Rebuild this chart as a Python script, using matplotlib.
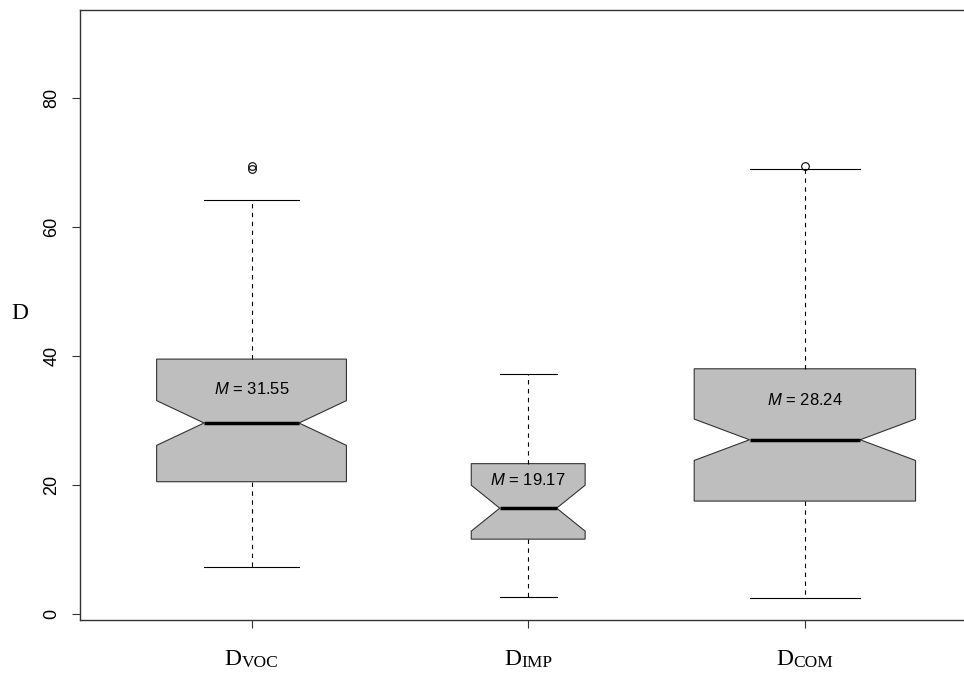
import numpy as np
import matplotlib
matplotlib.use('Agg')
import matplotlib.pyplot as plt

# datos de las cajas
groups = ['VOC', 'IMP', 'COM']
n_obs = [75, 27, 102]
whis_lo = [7.3, 2.6, 2.5]
q1 = [20.5, 11.6, 17.5]
medians = [29.6, 16.4, 27.0]
q3 = [39.5, 23.3, 38.0]
whis_hi = [64.2, 37.2, 68.9]
outliers = [[69.0, 69.5], [], [69.5]]
means = [31.55, 19.17, 28.24]
mean_text_y = [34.9, 20.8, 33.2]

plt.rcParams['mathtext.fontset'] = 'custom'
plt.rcParams['mathtext.rm'] = 'Liberation Sans'
plt.rcParams['mathtext.it'] = 'Liberation Sans:italic'
plt.rcParams['font.family'] = 'Liberation Sans'

# estadisticos para bxp, muescas como en R (1.58*IQR/sqrt(n))
stats = []
for i in range(len(groups)):
    iqr = q3[i] - q1[i]
    h = 1.58 * iqr / np.sqrt(n_obs[i])
    stats.append(dict(med=medians[i], q1=q1[i], q3=q3[i],
                      whislo=whis_lo[i], whishi=whis_hi[i],
                      cilo=medians[i] - h, cihi=medians[i] + h,
                      fliers=np.array(outliers[i]), label=''))

n = np.array(n_obs, dtype=float)
widths = 0.8 * np.sqrt(n / n.max())   # varwidth=TRUE
pos = np.arange(1, len(groups) + 1)

fig = plt.figure(figsize=(9.64, 6.73), dpi=100)
ax = fig.add_axes([80/964, 53/673, 896.4/964, 610/673])

ax.bxp(stats, positions=pos, widths=widths, capwidths=widths*0.5,
       shownotches=True, patch_artist=True,
       boxprops=dict(facecolor='#BEBEBE', edgecolor='#333333', linewidth=0.8),
       medianprops=dict(color='black', linewidth=2.5),
       whiskerprops=dict(color='black', linewidth=0.8, linestyle=(0, (4, 4))),
       capprops=dict(color='black', linewidth=0.8),
       flierprops=dict(marker='o', mfc='none', mec='black', ms=5.5, mew=0.8))

for p, m, ty in zip(pos, means, mean_text_y):
    ax.text(p, ty, r'$M$ = %.2f' % m, ha='center', va='center', fontsize=12)

ax.set_xlim(0.38, 3.62)
ax.set_ylim(-0.93, 93.6)

ax.set_yticks([0, 20, 40, 60, 80])
ax.set_yticklabels(['0', '20', '40', '60', '80'], fontsize=13, rotation=90, va='center')
ax.set_xticks(pos)
ax.set_xticklabels([])
ax.tick_params('y', length=6, width=0.8, pad=8, color='#333333')
ax.tick_params('x', length=6, width=0.8, color='#333333')

for s in ax.spines.values():
    s.set_color('#333333')
    s.set_linewidth(1.0)

ax.set_ylabel('D', family='Liberation Serif', fontsize=17, rotation=0, va='center', ha='center')
ax.yaxis.set_label_coords(-60/896.4, 0.503)

# etiquetas del eje x: D con subindice
pares = []
for p, g in zip(pos, groups):
    d = ax.annotate('D', xy=(p, 0), xycoords=('data', 'axes fraction'),
                    xytext=(0, -45), textcoords='offset pixels',
                    ha='right', va='baseline', fontsize=17, family='Liberation Serif')
    sb = ax.annotate(g, xy=(1, 0), xycoords=d, xytext=(0, 3), textcoords='offset pixels',
                     ha='left', va='baseline', fontsize=12.5, family='Liberation Serif')
    pares.append((d, sb))

fig.canvas.draw()
r = fig.canvas.get_renderer()
for d, sb in pares:
    wd = d.get_window_extent(r).width
    ws = sb.get_window_extent(r).width
    d.xyann = (-(ws - wd) / 2, -45)

fig.savefig('out.png', dpi=100)
